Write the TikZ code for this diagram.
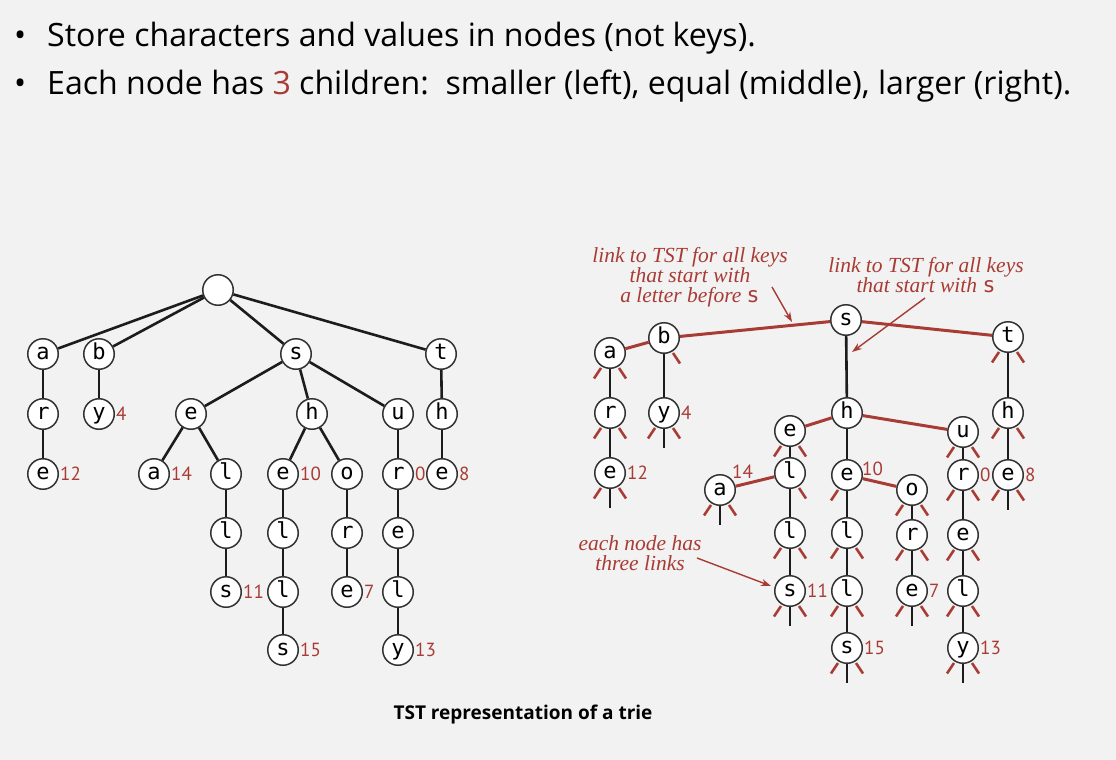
\documentclass[tikz,border=0pt]{standalone}
\usepackage{fontspec}
\setmainfont{Liberation Serif}
\newfontfamily\headfont{Open Sans}
\newfontfamily\keyfont{DejaVu Sans Mono}
\newfontfamily\numfont{PT Sans}
\newfontfamily\capfont{Open Sans}
\usetikzlibrary{calc,arrows.meta}

\definecolor{tstred}{RGB}{168,60,52}
\definecolor{paper}{RGB}{242,242,242}
\definecolor{ink}{RGB}{28,28,28}

\tikzset{
  tnode/.style={circle, draw=ink!90, line width=1.5pt, fill=white,
    minimum size=30.5pt, inner sep=0pt, text height=14.5pt, text depth=3pt,
    font=\keyfont\fontsize{22}{22}\selectfont},
  blink/.style={line width=2.6pt, draw=ink},
  rlink/.style={line width=3pt, draw=tstred},
  val/.style={font=\numfont\fontsize{19}{19}\selectfont, text=tstred,
    anchor=west, inner sep=1pt},
  note/.style={font=\itshape\fontsize{21.5}{20}\selectfont, text=tstred,
    align=center, inner sep=0pt},
  pointer/.style={draw=tstred, line width=1.4pt,
    -{Stealth[length=10pt,width=7pt]}},
  bullet/.style={font=\headfont\fontsize{32.1}{32}\selectfont, anchor=base west,
    inner sep=0pt}
}

% stubs for empty links below a node
\newcommand\lstub[1]{\draw[rlink, line width=2.6pt] ($(#1)+(-9,15)$) -- ($(#1)+(-16,25.5)$);}
\newcommand\rstub[1]{\draw[rlink, line width=2.6pt] ($(#1)+(9,15)$) -- ($(#1)+(16,25.5)$);}
\newcommand\mstub[1]{\draw[blink] (#1.south) -- ++(0,19);}
\newcommand\lrstubs[1]{\lstub{#1}\rstub{#1}}
\newcommand\allstubs[1]{\lstub{#1}\rstub{#1}\mstub{#1}}

\begin{document}
\begin{tikzpicture}[x=1pt, y=-1pt]
\fill[paper] (0,0) rectangle (1116,760);
\useasboundingbox (0,0) rectangle (1116,760);

% ---------- heading ----------
\node[bullet] (b1) at (14,47) {\textbullet};
\node[bullet] (h1) at (47,47) {Store characters and values in nodes (not keys).};
\node[bullet] (b2) at (14,95) {\textbullet};
\node[bullet] (h2) at (47,95) {Each node has \textcolor{tstred}{3} children:\ \ smaller (left), equal (middle), larger (right).};

% ---------- trie ----------
\node[tnode] (root) at (218,290) {};
\node[tnode] (a1) at (43,354) {a};
\node[tnode] (b1t) at (99,354) {b};
\node[tnode] (s1) at (296,354) {s};
\node[tnode] (t1) at (441,354) {t};
\node[tnode] (r1) at (43,414) {r};
\node[tnode] (y1) at (99,414) {y};
\node[tnode] (e1) at (191,414) {e};
\node[tnode] (h1t) at (312,414) {h};
\node[tnode] (u1) at (398,414) {u};
\node[tnode] (h2t) at (442,414) {h};
\node[tnode] (e2) at (43,474) {e};
\node[tnode] (a2) at (154,474) {a};
\node[tnode] (l1) at (226,474) {l};
\node[tnode] (e3) at (283,474) {e};
\node[tnode] (o1) at (347,474) {o};
\node[tnode] (r2) at (398,474) {r};
\node[tnode] (e4) at (442,474) {e};
\node[tnode] (l2) at (226,533) {l};
\node[tnode] (l3) at (283,533) {l};
\node[tnode] (r3) at (347,533) {r};
\node[tnode] (e5) at (398,533) {e};
\node[tnode] (s2) at (226,592) {s};
\node[tnode] (l4) at (283,592) {l};
\node[tnode] (e6) at (347,592) {e};
\node[tnode] (l5) at (398,592) {l};
\node[tnode] (s3) at (283,650) {s};
\node[tnode] (y2) at (398,650) {y};

\foreach \u/\v in {root/a1, root/b1t, root/s1, root/t1, a1/r1, r1/e2, b1t/y1,
  s1/e1, s1/h1t, s1/u1, t1/h2t, h2t/e4, e1/a2, e1/l1, l1/l2, l2/s2,
  h1t/e3, h1t/o1, e3/l3, l3/l4, l4/s3, o1/r3, r3/e6,
  u1/r2, r2/e5, e5/l5, l5/y2}
  \draw[blink] (\u) -- (\v);

\node[val] (v1) at (y1.east) {4};
\node[val] (v2) at (e2.east) {12};
\node[val] (v3) at (a2.east) {14};
\node[val] (v4) at (e3.east) {10};
\node[val] (v5) at (r2.east) {0};
\node[val] (v6) at (e4.east) {8};
\node[val] (v7) at (s2.east) {11};
\node[val] (v8) at (e6.east) {7};
\node[val] (v9) at (s3.east) {15};
\node[val] (v10) at (y2.east) {13};

% ---------- ternary search trie ----------
\node[tnode] (S) at (846,320) {s};
\node[tnode] (B) at (664,338) {b};
\node[tnode] (A) at (610,353) {a};
\node[tnode] (T) at (1008,337) {t};
\node[tnode] (R) at (610,413) {r};
\node[tnode] (Y) at (664,413) {y};
\node[tnode] (H) at (847,413) {h};
\node[tnode] (Hb) at (1008,413) {h};
\node[tnode] (E) at (790,431) {e};
\node[tnode] (U) at (963,432) {u};
\node[tnode] (E12) at (610,473) {e};
\node[tnode] (L) at (790,473) {l};
\node[tnode] (E10) at (847,475) {e};
\node[tnode] (R0) at (963,475) {r};
\node[tnode] (E8) at (1008,475) {e};
\node[tnode] (Aa) at (720,490) {a};
\node[tnode] (O) at (912,490) {o};
\node[tnode] (L2) at (790,533) {l};
\node[tnode] (L3) at (847,533) {l};
\node[tnode] (Rr) at (912,535) {r};
\node[tnode] (Ee) at (963,535) {e};
\node[tnode] (S11) at (790,591) {s};
\node[tnode] (L4) at (847,591) {l};
\node[tnode] (E7) at (912,591) {e};
\node[tnode] (L5) at (963,591) {l};
\node[tnode] (S15) at (847,648) {s};
\node[tnode] (Y13) at (963,648) {y};

% middle (equal) links
\foreach \u/\v in {S/H, B/Y, A/R, R/E12, T/Hb, Hb/E8, H/E10, E/L, L/L2, L2/S11,
  E10/L3, L3/L4, L4/S15, O/Rr, Rr/E7, U/R0, R0/Ee, Ee/L5, L5/Y13}
  \draw[blink] (\u) -- (\v);
% left and right links
\foreach \u/\v in {S/B, S/T, B/A, H/E, H/U, L/Aa, E10/O}
  \draw[rlink] (\u) -- (\v);

% null links
\lrstubs{A}
\rstub{B}
\lrstubs{T}
\lrstubs{R}
\allstubs{Y}
\allstubs{E12}
\lrstubs{Hb}
\lrstubs{E}
\lrstubs{U}
\rstub{L}
\lstub{E10}
\lrstubs{R0}
\allstubs{E8}
\allstubs{Aa}
\lrstubs{O}
\lrstubs{L2}
\lrstubs{L3}
\lrstubs{Rr}
\lrstubs{Ee}
\allstubs{S11}
\lrstubs{L4}
\allstubs{E7}
\lrstubs{L5}
\allstubs{S15}
\allstubs{Y13}

\node[val] (w1) at (Y.east) {4};
\node[val] (w2) at (E12.east) {12};
\node[val] (w3) at (731,472) {14};
\node[val] (w4) at (861,469) {10};
\node[val] (w5) at (R0.east) {0};
\node[val] (w6) at (E8.east) {8};
\node[val] (w7) at (S11.east) {11};
\node[val] (w8) at (E7.east) {7};
\node[val] (w9) at (S15.east) {15};
\node[val] (w10) at (Y13.east) {13};

% ---------- annotations ----------
\node[note] (n1) at (690,277) {link to TST for all keys\\that start with\\a letter before {\upshape\keyfont s}};
\node[note] (n2) at (926,275) {link to TST for all keys\\that start with {\upshape\keyfont s}};
\node[note] (n3) at (640,553) {each node has\\three links};
\coordinate (p1s) at (772,287);
\coordinate (p1e) at (792,322);
\coordinate (p2s) at (925,298);
\coordinate (p2e) at (852,352);
\coordinate (p3s) at (697,558);
\coordinate (p3e) at (771,586);
\draw[pointer] (p1s) -- (p1e);
\draw[pointer] (p2s) -- (p2e);
\draw[pointer] (p3s) -- (p3e);

% ---------- caption ----------
\node[font=\capfont\bfseries\fontsize{19}{19}\selectfont, inner sep=0pt] (cap) at (523,715) {TST representation of a trie};
\end{tikzpicture}
\end{document}
